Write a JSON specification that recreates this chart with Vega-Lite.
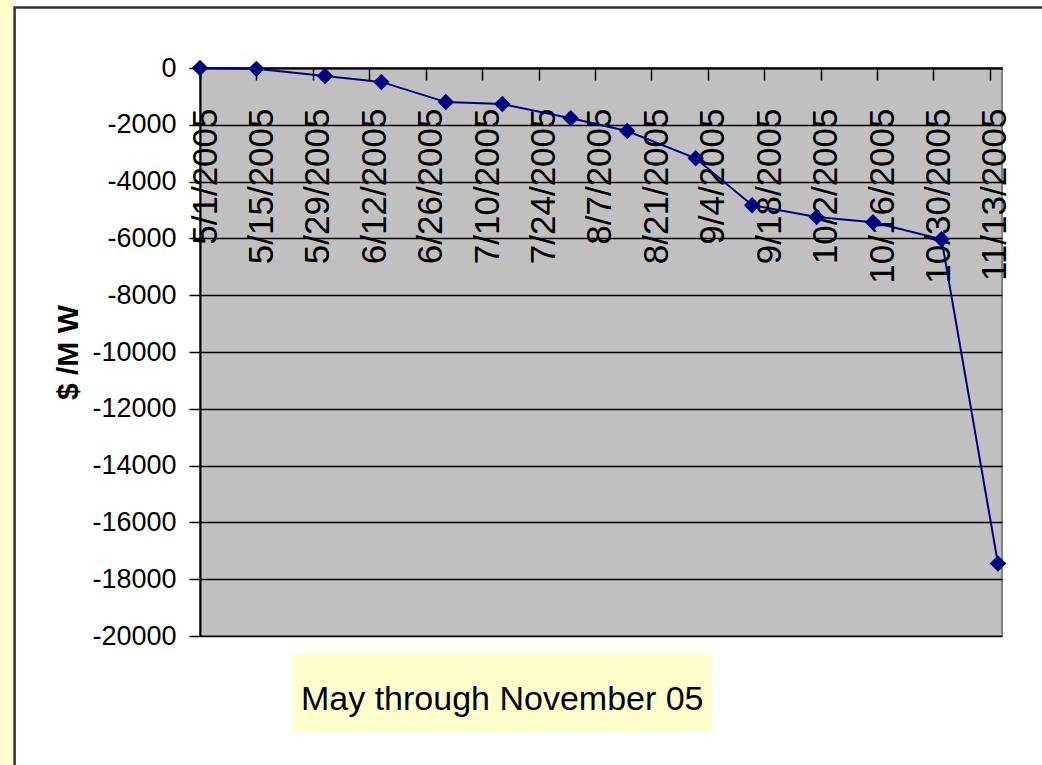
{
  "$schema": "https://vega.github.io/schema/vega-lite/v6.json",
  "width": 802,
  "height": 568,
  "autosize": {"type": "none"},
  "padding": {"left": 200, "top": 68, "right": 40, "bottom": 129},
  "background": "white",
  "config": {
    "view": {"fill": "#C0C0C0", "stroke": "#808080", "strokeWidth": 2},
    "axisX": {
      "labelExpr": "utcFormat(datum.value, '%-m/%-d/%Y')",
      "labelAngle": 270,
      "labelAlign": "right",
      "labelBaseline": "middle",
      "labelPadding": 28,
      "labelOffset": 5,
      "labelFont": "Liberation Sans, Arial, sans-serif",
      "labelFontSize": 35,
      "labelColor": "black",
      "labelOverlap": false,
      "labelFlush": false,
      "labelBound": false,
      "tickSize": 12,
      "tickColor": "black",
      "tickWidth": 1.5,
      "domainColor": "black",
      "domainWidth": 2,
      "grid": false
    },
    "axisY": {
      "labelExpr": "'' + datum.value",
      "labelFont": "Liberation Sans, Arial, sans-serif",
      "labelFontSize": 27,
      "labelColor": "black",
      "labelPadding": 13,
      "tickSize": 11,
      "tickColor": "black",
      "tickWidth": 1.5,
      "domainColor": "black",
      "domainWidth": 2,
      "grid": true,
      "gridColor": "black",
      "gridWidth": 1.5,
      "titleFont": "Liberation Sans, Arial, sans-serif",
      "titleFontSize": 30,
      "titleFontWeight": "bold",
      "titleColor": "black",
      "titlePadding": 8
    }
  },
  "data": {
    "values": [
      {"date": "2005-05-01", "value": 0},
      {"date": "2005-05-15", "value": -30},
      {"date": "2005-06-01", "value": -280},
      {"date": "2005-06-15", "value": -490},
      {"date": "2005-07-01", "value": -1200},
      {"date": "2005-07-15", "value": -1270},
      {"date": "2005-08-01", "value": -1770},
      {"date": "2005-08-15", "value": -2220},
      {"date": "2005-09-01", "value": -3180},
      {"date": "2005-09-15", "value": -4830},
      {"date": "2005-10-01", "value": -5250},
      {"date": "2005-10-15", "value": -5430},
      {"date": "2005-11-01", "value": -6030},
      {"date": "2005-11-15", "value": -17450}
    ]
  },
  "layer": [
    {
      "mark": {
        "type": "line",
        "color": "#000080",
        "strokeWidth": 2,
        "point": {"shape": "diamond", "size": 270, "filled": true, "color": "#000080"}
      },
      "encoding": {
        "x": {
          "field": "date",
          "type": "temporal",
          "scale": {
            "type": "utc",
            "domain": [
              {"year": 2005, "month": 5, "date": 1, "utc": true},
              {"year": 2005, "month": 11, "date": 16, "utc": true}
            ],
            "nice": false
          },
          "axis": {
            "orient": "bottom",
            "offset": -568,
            "values": [
              {"year": 2005, "month": 5, "date": 1, "utc": true},
              {"year": 2005, "month": 5, "date": 15, "utc": true},
              {"year": 2005, "month": 5, "date": 29, "utc": true},
              {"year": 2005, "month": 6, "date": 12, "utc": true},
              {"year": 2005, "month": 6, "date": 26, "utc": true},
              {"year": 2005, "month": 7, "date": 10, "utc": true},
              {"year": 2005, "month": 7, "date": 24, "utc": true},
              {"year": 2005, "month": 8, "date": 7, "utc": true},
              {"year": 2005, "month": 8, "date": 21, "utc": true},
              {"year": 2005, "month": 9, "date": 4, "utc": true},
              {"year": 2005, "month": 9, "date": 18, "utc": true},
              {"year": 2005, "month": 10, "date": 2, "utc": true},
              {"year": 2005, "month": 10, "date": 16, "utc": true},
              {"year": 2005, "month": 10, "date": 30, "utc": true},
              {"year": 2005, "month": 11, "date": 13, "utc": true}
            ],
            "labelExpr": "utcFormat(datum.value, '%-m/%-d/%Y')",
            "labelPadding": 28,
            "labelFontSize": 35,
            "title": null
          }
        },
        "y": {
          "field": "value",
          "type": "quantitative",
          "scale": {"domain": [-20000, 0], "nice": false, "zero": false},
          "axis": {
            "values": [0, -2000, -4000, -6000, -8000, -10000, -12000, -14000, -16000, -18000, -20000],
            "title": "$ /M W"
          }
        }
      }
    },
    {
      "data": {"values": [{}]},
      "mark": {"type": "rect", "fill": "#FFFFCC", "stroke": null},
      "encoding": {
        "x": {"datum": {"year": 2005, "month": 3, "date": 8, "utc": true}, "type": "temporal"},
        "x2": {"datum": {"year": 2005, "month": 3, "date": 16, "utc": true}},
        "y": {"datum": 5000, "type": "quantitative"},
        "y2": {"datum": -30000}
      }
    },
    {
      "data": {"values": [{}]},
      "mark": {"type": "rect", "filled": false, "stroke": "#333333", "strokeWidth": 2.5},
      "encoding": {
        "x": {"datum": {"year": 2005, "month": 3, "date": 16, "utc": true}, "type": "temporal"},
        "x2": {"datum": {"year": 2005, "month": 11, "date": 27, "utc": true}},
        "y": {"datum": 2130, "type": "quantitative"},
        "y2": {"datum": -26000}
      }
    },
    {
      "data": {"values": [{}]},
      "mark": {"type": "rect", "fill": "#FFFFCC", "stroke": null},
      "encoding": {
        "x": {"datum": {"year": 2005, "month": 5, "date": 24, "utc": true}, "type": "temporal"},
        "x2": {"datum": {"year": 2005, "month": 9, "date": 5, "utc": true}},
        "y": {"datum": -20634, "type": "quantitative"},
        "y2": {"datum": -23380}
      }
    },
    {
      "data": {"values": [{"t": "May through November 05"}]},
      "mark": {"type": "text", "font": "Liberation Sans, Arial, sans-serif", "fontSize": 34, "align": "center", "baseline": "alphabetic", "color": "black"},
      "encoding": {
        "x": {"datum": {"year": 2005, "month": 7, "date": 15, "utc": true}, "type": "temporal"},
        "y": {"datum": -22605, "type": "quantitative"},
        "text": {"field": "t"}
      }
    }
  ]
}
